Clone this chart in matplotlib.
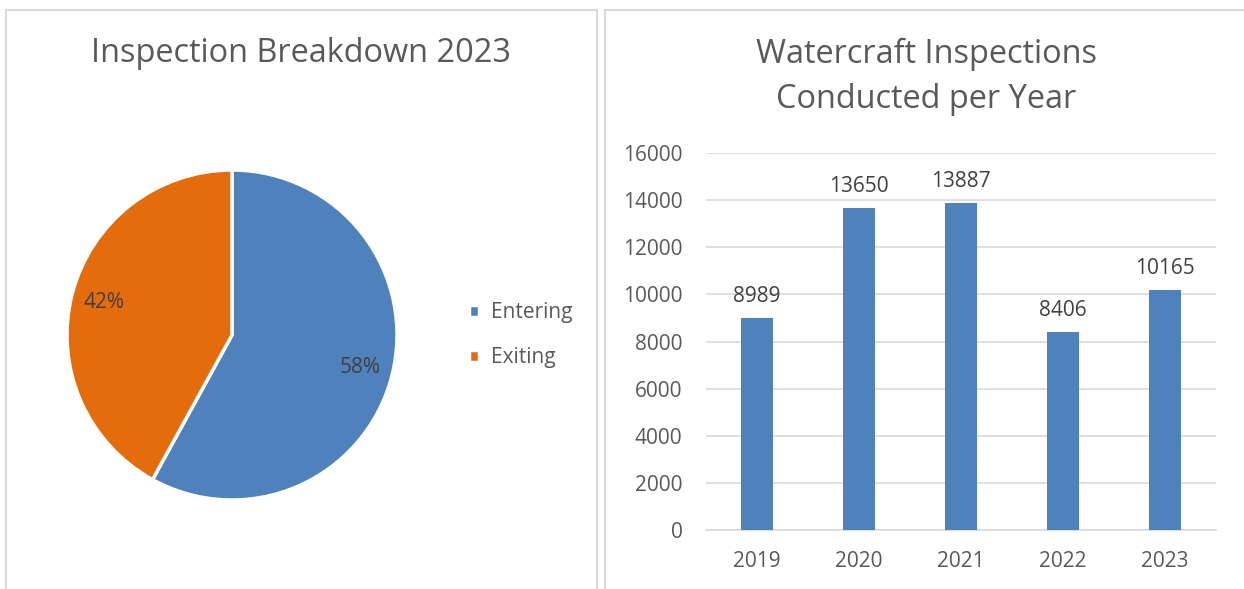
import matplotlib.pyplot as plt
from matplotlib.patches import Rectangle

# pie data
pie_labels = ['Entering', 'Exiting']
pie_values = [58, 42]

# bar data
years = ['2019', '2020', '2021', '2022', '2023']
inspections = [8989, 13650, 13887, 8406, 10165]

blue = '#4F81BD'
orange = '#E46C0A'
text_grey = '#595959'
label_grey = '#404040'
plt.rcParams['font.family'] = ['Open Sans', 'DejaVu Sans']

W, H = 1244, 589
fig = plt.figure(figsize=(W / 100, H / 100), dpi=100)


def fbox(x0, y0, x1, y1):
    # pixel box (top-left origin) -> figure fraction [l, b, w, h]
    return [x0 / W, 1 - y1 / H, (x1 - x0) / W, (y1 - y0) / H]


# panel borders
for x0, x1 in [(6, 597), (605, 1250)]:
    fig.add_artist(Rectangle((x0 / W, -0.05), (x1 - x0) / W, 1 - 10 / H + 0.05,
                             transform=fig.transFigure, fill=False,
                             edgecolor='#D9D9D9', lw=1.5))

# ---- pie ----
cx, cy, r = 232, 335, 165
ax1 = fig.add_axes(fbox(cx - r, cy - r, cx + r, cy + r))
wedges, texts, autotexts = ax1.pie(
    pie_values, colors=[blue, orange], startangle=90, counterclock=False,
    autopct='%d%%', pctdistance=0.8, radius=1,
    wedgeprops=dict(edgecolor='white', linewidth=2.5),
    textprops=dict(color=label_grey, fontsize=15))
ax1.set_xlim(-1, 1)
ax1.set_ylim(-1, 1)
ax1.set_aspect('equal')

fig.text(301 / W, 1 - 54 / H, 'Inspection Breakdown 2023', ha='center', va='center',
         fontsize=23.4, color=text_grey)

fig.legend(wedges, pie_labels, loc='center left', bbox_to_anchor=(450 / W, 1 - 335 / H),
           frameon=False, fontsize=15, labelcolor=text_grey, handlelength=0.5,
           handleheight=0.5, handletextpad=0.55, labelspacing=1.15)

# ---- bar ----
ax2 = fig.add_axes(fbox(706, 153, 1216, 530))
x = range(len(years))
bars = ax2.bar(x, inspections, width=0.31, color=blue, zorder=3)
ax2.set_xlim(-0.5, len(years) - 0.5)
ax2.set_ylim(0, 16000)
ax2.set_yticks(range(0, 16001, 2000))
ax2.set_xticks(list(x))
ax2.set_xticklabels(years)
ax2.grid(axis='y', color='#D9D9D9', lw=1.2, zorder=0)
for s in ['top', 'right', 'left']:
    ax2.spines[s].set_visible(False)
ax2.spines['bottom'].set_color('#D9D9D9')
ax2.spines['bottom'].set_linewidth(1.2)
ax2.tick_params(length=0, labelsize=15, labelcolor=text_grey)
ax2.tick_params(axis='y', pad=17)
ax2.tick_params(axis='x', pad=15)
for b, v in zip(bars, inspections):
    ax2.annotate(str(v), (b.get_x() + b.get_width() / 2, v), xytext=(0, 8),
                 textcoords='offset points', ha='center', va='bottom',
                 fontsize=15, color=label_grey)

fig.text(926 / W, 1 - 54 / H, 'Watercraft Inspections', ha='center',
         va='center', fontsize=23.4, color=text_grey)
fig.text(926 / W, 1 - 100 / H, 'Conducted per Year', ha='center',
         va='center', fontsize=23.4, color=text_grey)

fig.savefig('out.png', dpi=100)
